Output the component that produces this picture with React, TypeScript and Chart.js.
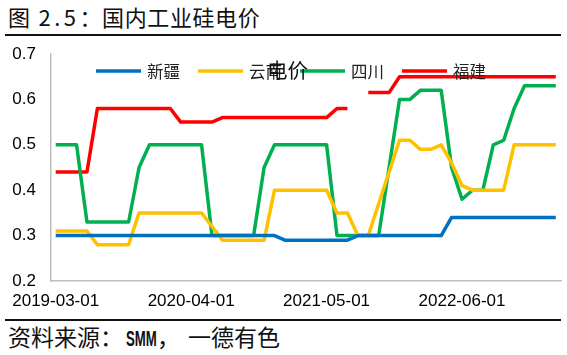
import React, { useEffect, useRef } from 'react';
import { Chart, registerables } from 'chart.js';

Chart.register(...registerables);

// ---- data ----
const dates = [
  '2019-03-01', '2019-04-01', '2019-05-01', '2019-06-01', '2019-07-01', '2019-08-01', '2019-09-01',
  '2019-10-01', '2019-11-01', '2019-12-01', '2020-01-01', '2020-02-01', '2020-03-01', '2020-04-01',
  '2020-05-01', '2020-06-01', '2020-07-01', '2020-08-01', '2020-09-01', '2020-10-01', '2020-11-01',
  '2020-12-01', '2021-01-01', '2021-02-01', '2021-03-01', '2021-04-01', '2021-05-01', '2021-06-01',
  '2021-07-01', '2021-08-01', '2021-09-01', '2021-10-01', '2021-11-01', '2021-12-01', '2022-01-01',
  '2022-02-01', '2022-03-01', '2022-04-01', '2022-05-01', '2022-06-01', '2022-07-01', '2022-08-01',
  '2022-09-01', '2022-10-01', '2022-11-01', '2022-12-01', '2023-01-01', '2023-02-01', '2023-03-01',
];

const seriesNames = ['新疆', '云南', '四川', '福建'];

const xinjiang = [
  0.3, 0.3, 0.3, 0.3, 0.3, 0.3, 0.3, 0.3, 0.3, 0.3, 0.3, 0.3, 0.3, 0.3, 0.3, 0.3, 0.3, 0.3, 0.3, 0.3, 0.3, 0.3,
  0.29, 0.29, 0.29, 0.29, 0.29, 0.29, 0.29,
  0.3, 0.3, 0.3, 0.3, 0.3, 0.3, 0.3, 0.3, 0.3,
  0.34, 0.34, 0.34, 0.34, 0.34, 0.34, 0.34, 0.34, 0.34, 0.34, 0.34,
];

const yunnan = [
  0.31, 0.31, 0.31, 0.31,
  0.28, 0.28, 0.28, 0.28,
  0.35, 0.35, 0.35, 0.35, 0.35, 0.35, 0.35,
  0.32,
  0.29, 0.29, 0.29, 0.29, 0.29,
  0.4, 0.4, 0.4, 0.4, 0.4, 0.4,
  0.35, 0.35,
  0.3, 0.3,
  0.37, 0.44,
  0.51, 0.51,
  0.49, 0.49,
  0.5, 0.46, 0.41,
  0.4, 0.4, 0.4, 0.4,
  0.5, 0.5, 0.5, 0.5, 0.5,
];

const sichuan = [
  0.5, 0.5, 0.5,
  0.33, 0.33, 0.33, 0.33, 0.33,
  0.45,
  0.5, 0.5, 0.5, 0.5, 0.5, 0.5,
  0.3, 0.3, 0.3, 0.3, 0.3,
  0.45,
  0.5, 0.5, 0.5, 0.5, 0.5, 0.5,
  0.3, 0.3, 0.3, 0.3, 0.3,
  0.45,
  0.6, 0.6,
  0.62, 0.62, 0.62,
  0.45, 0.38,
  0.4, 0.4,
  0.5, 0.51, 0.58,
  0.63, 0.63, 0.63, 0.63,
];

const fujian = [
  0.44, 0.44, 0.44, 0.44,
  0.58, 0.58, 0.58, 0.58, 0.58, 0.58, 0.58, 0.58,
  0.55, 0.55, 0.55, 0.55,
  0.56, 0.56, 0.56, 0.56, 0.56, 0.56, 0.56, 0.56, 0.56, 0.56, 0.56,
  0.58, 0.58,
  null,
  0.615, 0.615, 0.615,
  0.65, 0.65, 0.65, 0.65, 0.65, 0.65, 0.65, 0.65, 0.65, 0.65, 0.65, 0.65, 0.65, 0.65, 0.65, 0.65,
];

const seriesColors = ['#0070C0', '#FFC000', '#00B050', '#FF0000'];
const yMin = 0.2;
const yMax = 0.7;
const yStep = 0.1;
const labelEvery = 13;
const chartTitle = '电价';
const figureTitle = '图 2.5：国内工业硅电价';

const CANVAS_TOP = 40;

const insideLegend = {
  id: 'insideLegend',
  afterDatasetsDraw(chart: any) {
    const ctx = chart.ctx;
    ctx.save();
    ctx.font = '16.5px "Noto Sans CJK SC"';
    ctx.textBaseline = 'middle';
    ctx.textAlign = 'left';
    let x = 96;
    const y = 71 - CANVAS_TOP;
    chart.data.datasets.forEach((ds: any) => {
      ctx.strokeStyle = ds.borderColor;
      ctx.lineWidth = 3.5;
      ctx.lineCap = 'butt';
      ctx.beginPath();
      ctx.moveTo(x, y);
      ctx.lineTo(x + 45, y);
      ctx.stroke();
      ctx.fillStyle = '#222';
      ctx.fillText(ds.label, x + 51, y + 1);
      x += 51 + ctx.measureText(ds.label).width + 18;
    });
    ctx.restore();
  },
};

function ChartCanvas() {
  const ref = useRef<HTMLCanvasElement | null>(null);
  useEffect(() => {
    if (!ref.current) return;
    const values = [xinjiang, yunnan, sichuan, fujian];
    const chart = new Chart(ref.current, {
      type: 'line',
      data: {
        labels: dates,
        datasets: seriesNames.map((name, i) => ({
          label: name,
          data: values[i],
          borderColor: seriesColors[i],
          backgroundColor: seriesColors[i],
          borderWidth: 3.5,
          pointRadius: 0,
          pointHoverRadius: 0,
          tension: 0,
          spanGaps: false,
          borderJoinStyle: 'round' as const,
        })),
      },
      options: {
        animation: false,
        responsive: false,
        devicePixelRatio: 1,
        layout: { padding: { top: 14, right: 6, bottom: 5, left: 0 } },
        plugins: {
          legend: { display: false },
          title: { display: false },
          tooltip: { enabled: false },
        },
        scales: {
          x: {
            type: 'category',
            offset: true,
            grid: { display: false, drawTicks: false },
            border: { display: true, color: '#BFBFBF', width: 1.5 },
            ticks: {
              autoSkip: false,
              maxRotation: 0,
              minRotation: 0,
              padding: 10,
              color: '#000',
              font: { family: '"Liberation Sans", Arial, sans-serif', size: 17 },
              callback: (_v: any, idx: number) => (idx % labelEvery === 0 ? dates[idx] : ''),
            },
            afterFit: (scale: any) => {
              scale.height = 30;
              scale.paddingLeft = 0;
              scale.paddingRight = 0;
            },
          },
          y: {
            min: yMin,
            max: yMax,
            grid: { display: false, drawTicks: false },
            border: { display: true, color: '#BFBFBF', width: 1.5 },
            ticks: {
              stepSize: yStep,
              padding: 14.5,
              color: '#000',
              font: { family: '"Liberation Sans", Arial, sans-serif', size: 17 },
              callback: (v: any) => Number(v).toFixed(1),
            },
            afterFit: (scale: any) => {
              scale.width = 50.5;
              scale.paddingTop = 0;
              scale.paddingBottom = 0;
            },
          },
        },
      },
      plugins: [insideLegend],
    });
    return () => chart.destroy();
  }, []);
  return (
    <canvas
      ref={ref}
      width={567}
      height={276}
      style={{ position: 'absolute', left: 0, top: CANVAS_TOP, width: 567, height: 276, display: 'block' }}
    />
  );
}

export default function App() {
  const cjk = '"Noto Sans CJK SC", sans-serif';
  return (
    <div
      style={{
        position: 'fixed',
        left: 0,
        top: 0,
        width: 567,
        height: 355,
        background: '#fff',
        overflow: 'hidden',
        fontFamily: cjk,
        color: '#111',
      }}
    >
      <div
        style={{
          position: 'absolute',
          left: 8,
          top: 5,
          fontSize: 22,
          lineHeight: '22px',
          whiteSpace: 'nowrap',
        }}
      >
        {figureTitle.slice(0, 1)}
        <span style={{ letterSpacing: 3.5 }}>{figureTitle.slice(1, 5)}</span>
        <span style={{ letterSpacing: 0.6 }}>{figureTitle.slice(5)}</span>
      </div>
      <div style={{ position: 'absolute', left: 5, top: 34, width: 556, height: 2, background: '#111' }} />
      <ChartCanvas />
      <div
        style={{
          position: 'absolute',
          left: 267,
          top: 59,
          fontSize: 20.5,
          lineHeight: '20px',
          whiteSpace: 'nowrap',
          color: '#111',
        }}
      >
        {chartTitle}
      </div>
      <div style={{ position: 'absolute', left: 5, top: 319, width: 556, height: 2, background: '#111' }} />
      <div
        style={{
          position: 'absolute',
          left: 8,
          top: 324.5,
          fontSize: 23,
          lineHeight: '23px',
          whiteSpace: 'nowrap',
        }}
      >
        资料来源：
        <span
          style={{
            display: 'inline-block',
            width: 31,
            marginLeft: 3,
            overflow: 'visible',
            verticalAlign: 'baseline',
          }}
        >
          <span
            style={{
              display: 'inline-block',
              fontFamily: '"Liberation Sans", Arial, sans-serif',
              fontWeight: 'bold',
              fontSize: 22,
              transform: 'scaleX(0.6)',
              transformOrigin: 'left center',
            }}
          >
            SMM
          </span>
        </span>
        ，<span style={{ marginLeft: 8 }}>一德有色</span>
      </div>
    </div>
  );
}
